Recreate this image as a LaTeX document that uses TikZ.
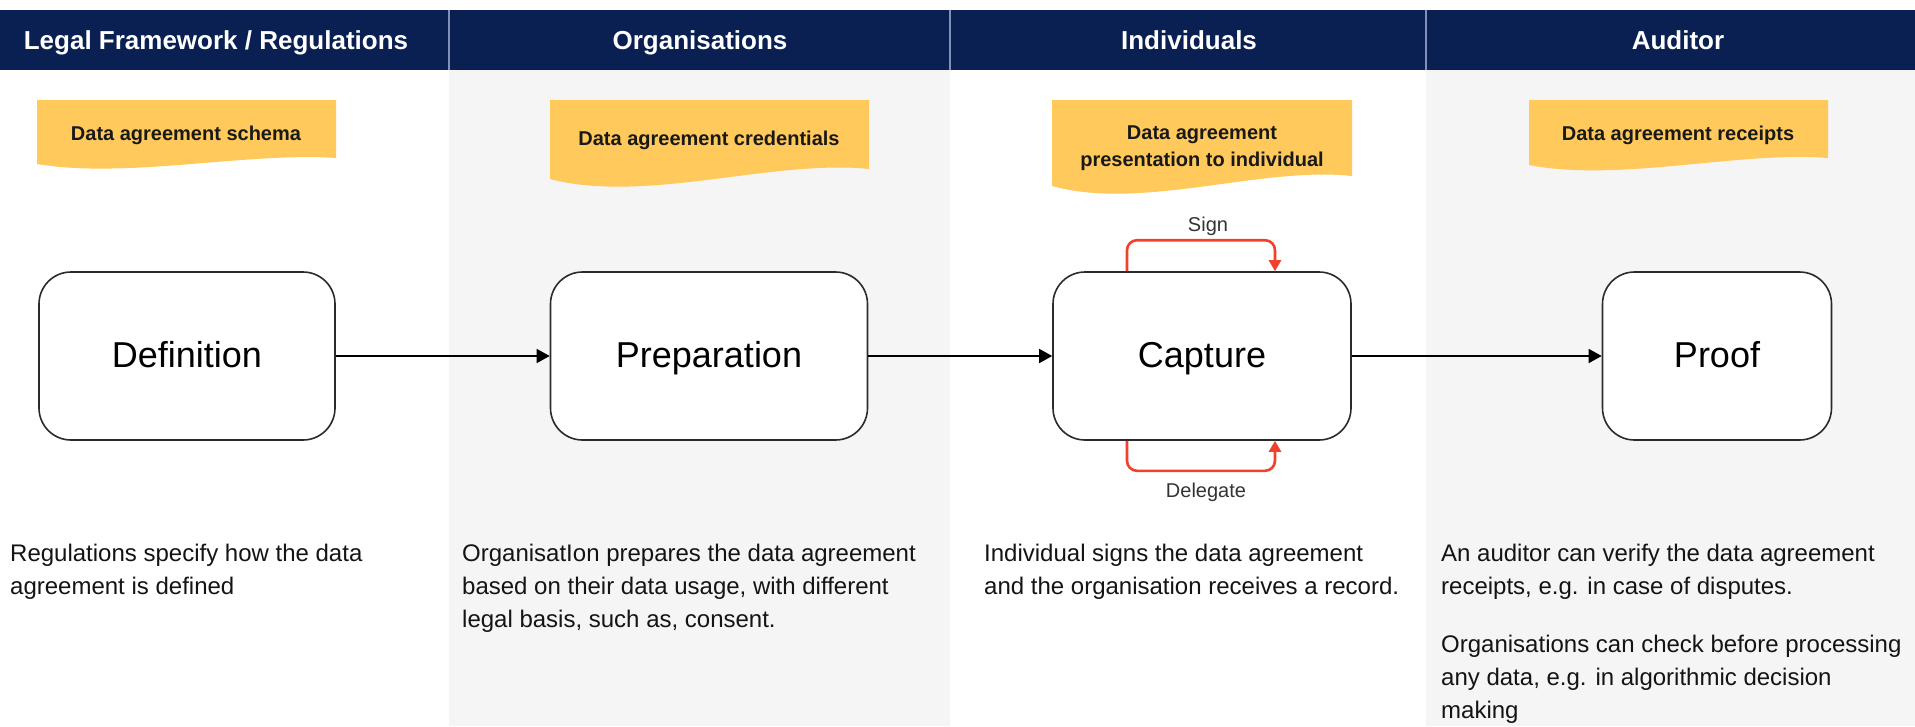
\documentclass[tikz,border=0pt]{standalone}
\usepackage{fontspec}
\setmainfont{Liberation Sans}
\usepackage{tikz}
\usetikzlibrary{arrows.meta,positioning}

\definecolor{navy}{HTML}{0A2052}
\definecolor{lanegray}{HTML}{F5F5F5}
\definecolor{tagyellow}{HTML}{FFC95C}
\definecolor{loopred}{HTML}{F0412B}
\definecolor{edgegray}{HTML}{2B2B2B}
\definecolor{divider}{HTML}{8191B5}

\tikzset{
  header/.style={anchor=base, text=white, font=\fontsize{26}{30}\selectfont\bfseries},
  tagtext/.style={align=center, text=black!90, font=\fontsize{20}{27}\selectfont\bfseries},
  stage/.style={draw=edgegray, line width=1.6pt, rounded corners=32pt, fill=white,
    minimum height=168pt, text height=26pt, text depth=4pt, font=\fontsize{36}{43}\selectfont},
  flow/.style={line width=1.4pt, -{Triangle[length=13pt,width=14pt]}},
  redloop/.style={draw=loopred, line width=2.6pt, rounded corners=10pt,
    -{Triangle[length=11pt,width=12pt]}},
  looplabel/.style={text=black!80, font=\fontsize{20}{24}\selectfont},
  % anchored at the baseline of the last line
  desc/.style={anchor=base west, align=left, inner sep=0pt, text=black!92,
    font=\fontsize{24}{33}\selectfont}
}

% yellow tag with a wavy lower edge: left, right, base, amplitude
\newcommand\wavetag[4]{%
  \fill[tagyellow] (#1,100) -- (#2,100) -- (#2,#3)
    .. controls ({#1+0.7*(#2-#1)},{#3-#4}) and ({#1+0.3*(#2-#1)},{#3+3.5*#4}) .. (#1,{#3+#4})
    -- cycle;}

\begin{document}
\begin{tikzpicture}[x=1pt, y=-1pt]
\useasboundingbox (0,0) rectangle (1915,726);
\fill[white] (0,0) rectangle (1915,726);

%%% lanes and header bar %%%
\fill[lanegray] (449,70) rectangle (950,726);
\fill[lanegray] (1426,70) rectangle (1915,726);
\fill[navy] (0,10) rectangle (1915,70);
\foreach \x in {449,950,1426}
  \draw[divider, line width=2pt] (\x,10) -- (\x,70);

\node[header] (hlegal) at (216,49) {Legal Framework / Regulations};
\node[header] (horg)   at (700,49) {Organisations};
\node[header] (hind)   at (1189,49) {Individuals};
\node[header] (haud)   at (1678,49) {Auditor};

%%% tags %%%
\wavetag{37}{336}{158}{6}
\wavetag{550}{869}{169}{10}
\wavetag{1052}{1352}{176}{10}
\wavetag{1529}{1828}{158}{7}

\node[tagtext] (tschema)  at (186,135)  {Data agreement schema};
\node[tagtext] (tcred)    at (709,140)  {Data agreement credentials};
\node[tagtext] (tpres)    at (1202,148) {Data agreement\\presentation to individual};
\node[tagtext] (treceipt) at (1678,135) {Data agreement receipts};

%%% stages %%%
\node[stage, minimum width=296pt] (def)   at (187,356)  {Definition};
\node[stage, minimum width=317pt] (prep)  at (709,356)  {Preparation};
\node[stage, minimum width=298pt] (capt)  at (1202,356) {Capture};
\node[stage, minimum width=229pt] (proof) at (1717,356) {Proof};

\draw[flow] (def) -- (prep);
\draw[flow] (prep) -- (capt);
\draw[flow] (capt) -- (proof);

%% sign / delegate loops
\draw[redloop] ([xshift=-75pt]capt.north) |- ([yshift=31pt]capt.north) -| ([xshift=73pt]capt.north);
\draw[redloop] ([xshift=-75pt]capt.south) |- ([yshift=-30pt]capt.south) -| ([xshift=73pt]capt.south);
\node[looplabel] (sign)     at (1208,226) {Sign};
\node[looplabel] (delegate) at (1206,492) {Delegate};

%%% descriptions %%%
\node[desc] (ddef)  at (10,594)   {Regulations specify how the data\\agreement is defined};
\node[desc] (dprep) at (462,627)  {OrganisatIon prepares the data agreement\\based on their data usage, with different\\legal basis, such as, consent.};
\node[desc] (dcapt) at (984,594)  {Individual signs the data agreement\\and the organisation receives a record.};
\node[desc] (daud)  at (1441,594) {An auditor can verify the data agreement\\receipts, e.g. in case of disputes.};
\node[desc] (dchk)  at (1441,718) {Organisations can check before processing\\any data, e.g. in algorithmic decision\\making};

\end{tikzpicture}
\end{document}
